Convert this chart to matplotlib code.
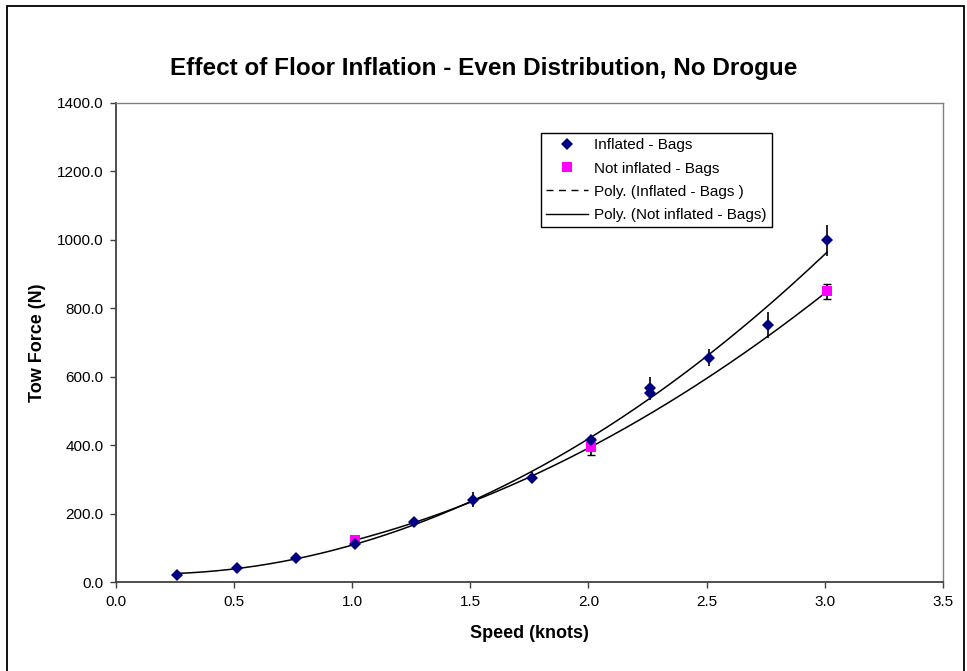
import numpy as np
import matplotlib.pyplot as plt
from matplotlib.lines import Line2D
from matplotlib.patches import Rectangle

plt.rcParams['font.family'] = ['Liberation Sans', 'DejaVu Sans']

# inflated floor, bags
infl_speed = [0.26, 0.51, 0.76, 1.01, 1.26, 1.51, 1.76, 2.01, 2.26, 2.26, 2.51, 2.76, 3.01]
infl_force = [20, 41, 69, 112, 174, 240, 305, 415, 568, 552, 656, 752, 998]
infl_err = [3, 3, 4, 6, 6, 22, 16, 12, 32, 20, 25, 38, 45]

# not inflated floor, bags
flat_speed = [1.01, 2.01, 3.01]
flat_force = [122, 395, 849]
flat_err = [6, 25, 22]

fig = plt.figure(figsize=(9.67, 6.71), dpi=100)
ax = fig.add_axes([0.12, 0.1326, 0.855, 0.714])

# outer chart frame
fig.patches.append(Rectangle((0.007, -0.02), 0.99, 1.011, transform=fig.transFigure,
                             fill=False, edgecolor='black', linewidth=1.3))

# polynomial trendlines (order 2)
c1 = np.polyfit(infl_speed, infl_force, 2)
x1 = np.linspace(min(infl_speed), max(infl_speed), 200)
ax.plot(x1, np.polyval(c1, x1), color='black', linewidth=1.1, zorder=2)
c2 = np.polyfit(flat_speed, flat_force, 2)
x2 = np.linspace(min(flat_speed), max(flat_speed), 200)
ax.plot(x2, np.polyval(c2, x2), color='black', linewidth=1.1, zorder=2)

ax.errorbar(infl_speed, infl_force, yerr=infl_err, fmt='none', ecolor='black',
            elinewidth=1.2, capsize=0, zorder=3)
ax.errorbar(flat_speed, flat_force, yerr=flat_err, fmt='none', ecolor='black',
            elinewidth=1.2, capsize=3, zorder=3)
ax.plot(flat_speed, flat_force, 's', color='#ff00ff', markersize=7,
        markeredgewidth=0, zorder=4)
ax.plot(infl_speed, infl_force, 'D', color='#000080', markersize=6,
        markeredgewidth=0, zorder=5)

ax.set_xlim(0, 3.5)
ax.set_ylim(0, 1400)
ax.set_xticks(np.arange(0, 3.51, 0.5))
ax.set_yticks(np.arange(0, 1401, 200))
ax.set_xticklabels([f'{v:.1f}' for v in np.arange(0, 3.51, 0.5)])
ax.set_yticklabels([f'{v:.1f}' for v in np.arange(0, 1401, 200)])
ax.tick_params(labelsize=11, direction='out', length=4, width=1, color='#404040', pad=5)

for s in ['top', 'right']:
    ax.spines[s].set_color('#808080')
    ax.spines[s].set_linewidth(1)
for s in ['left', 'bottom']:
    ax.spines[s].set_color('#404040')
    ax.spines[s].set_linewidth(1.3)

ax.set_xlabel('Speed (knots)', fontsize=13, fontweight='bold', labelpad=12)
ax.set_ylabel('Tow Force (N)', fontsize=13, fontweight='bold', labelpad=8)
fig.text(0.5, 0.898, 'Effect of Floor Inflation - Even Distribution, No Drogue',
         ha='center', va='center', fontsize=17.5, fontweight='bold')

handles = [
    Line2D([], [], marker='D', color='#000080', linestyle='none', markersize=6, markeredgewidth=0),
    Line2D([], [], marker='s', color='#ff00ff', linestyle='none', markersize=7, markeredgewidth=0),
    Line2D([], [], color='black', linestyle=(0, (5, 4)), linewidth=1),
    Line2D([], [], color='black', linewidth=1),
]
labels = ['Inflated - Bags', 'Not inflated - Bags', 'Poly. (Inflated - Bags )',
          'Poly. (Not inflated - Bags)']
leg = ax.legend(handles, labels, loc='upper left', bbox_to_anchor=(0.514, 0.937),
                borderaxespad=0, fontsize=11, fancybox=False, framealpha=1,
                edgecolor='black', handlelength=2.7, handletextpad=0.4,
                borderpad=0.35, labelspacing=0.6)
leg.get_frame().set_linewidth(1)

fig.savefig('out.png', dpi=100)
